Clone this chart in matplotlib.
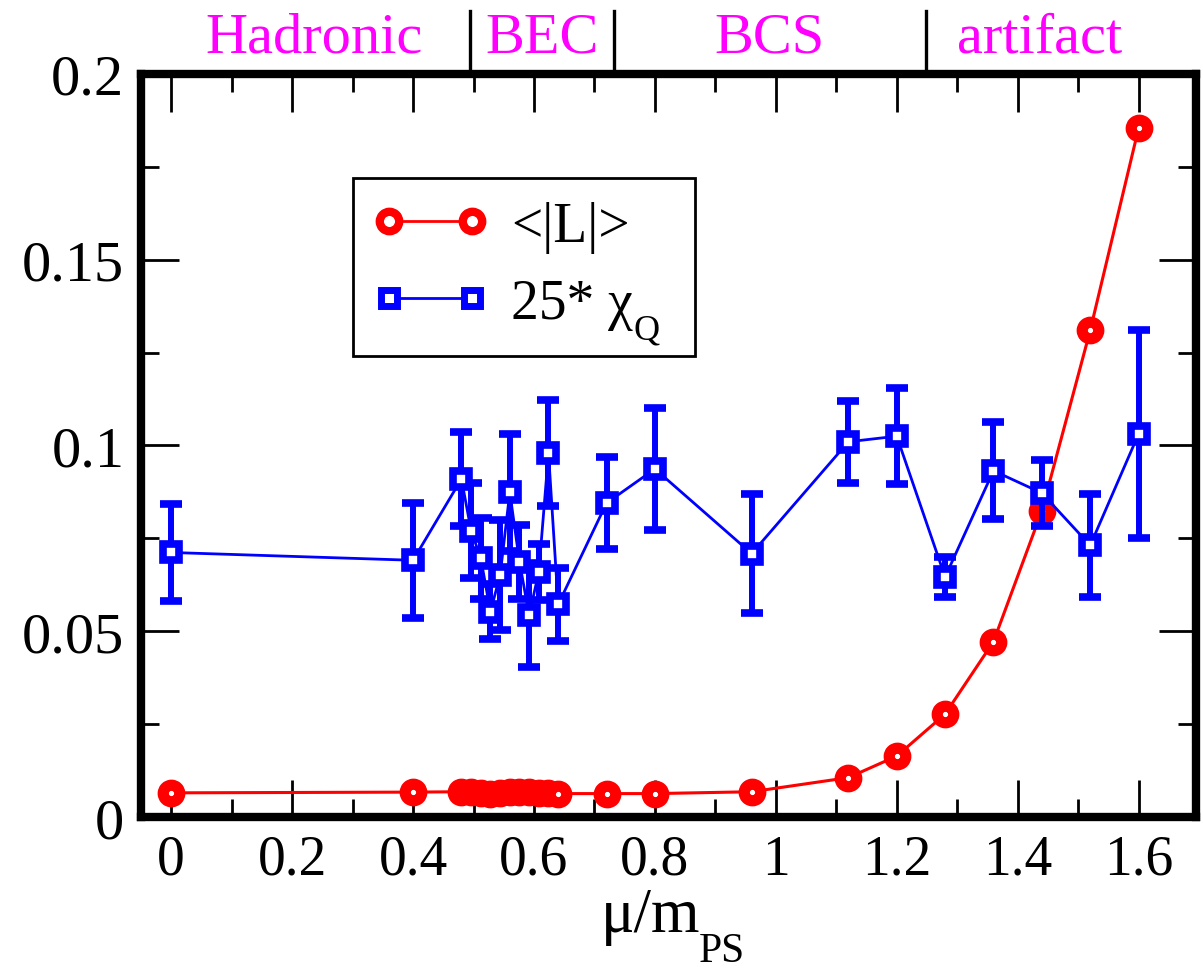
import numpy as np
import matplotlib
matplotlib.use('Agg')
import matplotlib.pyplot as plt
from matplotlib.lines import Line2D
from matplotlib.patches import Rectangle
from matplotlib.ticker import MultipleLocator, FuncFormatter
import matplotlib.transforms as mtransforms

plt.rcParams['font.family'] = ['Liberation Serif', 'DejaVu Serif']

# mu / m_PS
mu = [0.0, 0.4, 0.48, 0.496, 0.512, 0.528, 0.544, 0.56, 0.576, 0.592, 0.608, 0.624, 0.64,
      0.72, 0.8, 0.96, 1.12, 1.2, 1.28, 1.36, 1.44, 1.52, 1.6]

# Polyakov loop <|L|>
polyakov = [0.0065, 0.0067, 0.0068, 0.0066, 0.0064, 0.0063, 0.0065, 0.0067, 0.0068, 0.0066,
            0.0065, 0.0064, 0.0063, 0.0063, 0.0063, 0.0068, 0.0106, 0.0164, 0.0277, 0.0472,
            0.0824, 0.131, 0.1854]

# 25 * chi_Q and its error
chi_q = [0.0712, 0.0691, 0.091, 0.0771, 0.0696, 0.0553, 0.0651, 0.0874, 0.0687, 0.0543,
         0.066, 0.098, 0.0572, 0.0845, 0.0937, 0.0709, 0.101, 0.1025, 0.0646, 0.0932,
         0.0872, 0.0731, 0.1031]
chi_err = [0.013, 0.0154, 0.0126, 0.0128, 0.011, 0.0073, 0.0148, 0.0157, 0.010, 0.014,
           0.0076, 0.0142, 0.0098, 0.0124, 0.0165, 0.016, 0.011, 0.013, 0.0054, 0.013,
           0.009, 0.0138, 0.028]

# phase regions along the top
region_names = ['Hadronic', 'BEC', 'BCS', 'artifact']
region_centers = [0.236, 0.614, 0.99, 1.436]
region_bounds = [0.494, 0.732, 1.248]

fig = plt.figure(figsize=(12.03, 9.7), dpi=100)
ax = fig.add_axes([0.1172, 0.1567, 0.877, 0.766])

ax.plot(mu, polyakov, color='red', lw=2.2, marker='o', ms=12, mew=8,
        mfc='white', mec='red', zorder=3)
ax.errorbar(mu, chi_q, yerr=chi_err, color='blue', lw=2, elinewidth=4.3,
            capsize=8, capthick=4.3, marker='s', ms=11, mew=5.5,
            mfc='white', mec='blue', zorder=4)

ax.set_xlim(-0.05, 1.695)
ax.set_ylim(0, 0.2)

ax.xaxis.set_major_locator(MultipleLocator(0.2))
ax.xaxis.set_minor_locator(MultipleLocator(0.1))
ax.yaxis.set_major_locator(MultipleLocator(0.05))
ax.yaxis.set_minor_locator(MultipleLocator(0.025))
fmt = FuncFormatter(lambda v, p: '%g' % round(v, 3))
ax.xaxis.set_major_formatter(fmt)
ax.yaxis.set_major_formatter(fmt)

ax.tick_params(which='both', direction='in', top=True, right=True, width=2,
               color='black')
ax.tick_params(axis='x', labelsize=40)
ax.tick_params(axis='y', labelsize=42)
ax.tick_params(which='major', length=27, pad=12)
ax.tick_params(which='minor', length=13)
for s in ax.spines.values():
    s.set_linewidth(6)

# x label with a properly dropped subscript
fig.text(0.582, 0.0392, 'μ/m', fontsize=45, ha='right', va='baseline')
fig.text(0.581, 0.0085, 'PS', fontsize=30, ha='left', va='baseline')

# legend markers drawn as open rings / squares
handles = [
    Line2D([], [], color='red', lw=2, marker='o', ms=14, mew=6, mfc='white', mec='red'),
    Line2D([], [], color='blue', lw=2, marker='s', ms=12, mew=5, mfc='white', mec='blue'),
]
leg = ax.legend(handles, ['<|L|>', '25* χ'], fontsize=40,
                numpoints=2, loc='upper left', bbox_to_anchor=(0.2932, 0.812),
                bbox_transform=fig.transFigure, borderaxespad=0,
                handlelength=2.1, handletextpad=0.4, borderpad=0.35,
                labelspacing=0.45, frameon=False)
# box around the legend, wide enough for the subscript
fig.add_artist(Rectangle((0.2932, 0.6316), 0.2845, 0.1835, transform=fig.transFigure,
                         fill=False, edgecolor='black', lw=2))

# subscript Q after the chi in the legend
fig.canvas.draw()
renderer = fig.canvas.get_renderer()
chi_text = leg.get_texts()[1]
prop = chi_text.get_fontproperties()
bb = chi_text.get_window_extent(renderer)
d_lp = renderer.get_text_width_height_descent('lp', prop, ismath=False)[2]
qx = bb.x1 + 1
qy = bb.y0 + d_lp - 21
fig.text(qx / fig.bbox.width, qy / fig.bbox.height, 'Q', fontsize=26,
         ha='left', va='baseline')

trans = mtransforms.blended_transform_factory(ax.transData, ax.transAxes)
for name, xc in zip(region_names, region_centers):
    ax.text(xc, 1.03, name, transform=trans, ha='center', va='baseline',
            fontsize=42, color='magenta', clip_on=False)
for xb in region_bounds:
    ax.plot([xb, xb], [1.0, 1.085], transform=trans, color='black', lw=2.4,
            clip_on=False)

fig.savefig('out.png', dpi=100)
